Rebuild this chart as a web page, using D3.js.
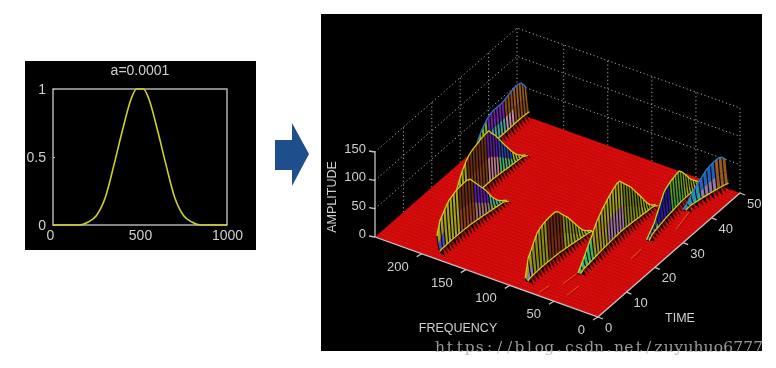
<!DOCTYPE html>
<html>
<head>
<meta charset="utf-8">
<script src="https://cdn.jsdelivr.net/npm/d3@7"></script>
<style>
  html, body { margin: 0; padding: 0; background: #fff; }
  svg { display: block; }
  text { font-family: "Liberation Sans", Arial, sans-serif; fill: #cfcfcf; }
  .soft { filter: blur(0.5px); }
  .softer { filter: blur(0.4px); }
</style>
</head>
<body>
<svg id="chart" width="776" height="368"></svg>
<script>
// left panel: window curve
const windowX = [0, 100, 150, 200, 250, 300, 350, 400, 450, 480, 500, 520, 550, 600, 650, 700, 750, 800, 850, 900, 1000];
const windowY = [0, 0, 0, 0.02, 0.07, 0.2, 0.44, 0.7, 0.93, 1, 1, 1, 0.93, 0.7, 0.44, 0.2, 0.07, 0.02, 0, 0, 0];
const windowTicksX = [0, 500, 1000];
const windowTicksY = [0, 0.5, 1];

// right panel: axes
const freqTicks = [0, 50, 100, 150, 200];
const timeTicks = [0, 10, 20, 30, 40, 50];
const ampTicks = [0, 50, 100, 150];

// right panel: ridges, back to front. amps are read per time unit from ridgeStart on
const ridgeStart = [31, 12, 1, 2, 10, 27, 39];
const ridgeFreqFrom = [240, 205, 184, 87, 53, 30, 27];
const ridgeFreqTo = [240, 206, 179, 82, 55, 38, 14];
const ridgeAmps = [
  [8, 22, 35, 44, 50, 56, 60, 62, 62, 62, 62, 63, 65, 67, 69, 70, 70, 68, 60, 50],
  [5, 20, 38, 52, 65, 74, 82, 88, 91, 93, 95, 97, 98, 99, 99, 90, 83, 74, 65, 55, 46, 37, 28, 20, 13, 8, 3, 0],
  [35, 58, 66, 74, 81, 84, 87, 89, 90, 91, 91, 88, 80, 72, 64, 56, 48, 38, 28, 20, 13, 8, 4, 0],
  [10, 42, 52, 64, 74, 78, 81, 83, 84, 85, 85, 80, 72, 65, 58, 49, 40, 31, 22, 14, 9, 5, 0],
  [3, 11, 20, 29, 38, 47, 57, 66, 72, 78, 83, 88, 92, 96, 99, 99, 92, 85, 78, 71, 62, 53, 44, 35, 25, 16, 9, 4, 0],
  [0, 5, 10, 15, 25, 34, 44, 53, 56, 58, 60, 61, 62, 62, 56, 48, 40, 31, 24, 18, 12, 6, 0],
  [3, 10, 20, 29, 37, 44, 51, 55, 58, 60, 58, 50]
];
// colour zones along time: each colour runs up to the matching break
const ridgeBreaks = [
  [36, 42, 45, 51],
  [18, 25, 29, 34, 40],
  [3, 8, 13, 18, 25],
  [4, 9, 14, 19, 25],
  [15, 20, 26, 32, 39],
  [31, 36, 41, 45, 50],
  [43, 47, 51]
];
const ridgeColorsLow = [
  ["#9aa61c", "#3fa0a0", "#c08ca8", "#8a4a18"],
  ["#a8a818", "#7a3a12", "#c07a90", "#46b070", "#9ab820"],
  ["#4a50b8", "#a8a018", "#8c3a18", "#9a6a70", "#60b040"],
  ["#8a80b8", "#8a8a14", "#7a2a10", "#8e9a18", "#8fb018"],
  ["#30c070", "#a09018", "#9a70a0", "#7c8a14", "#98a818"],
  ["#40b060", "#2020a0", "#3a9a30", "#8ca818", "#a8b018"],
  ["#20a8b0", "#8a7ab0", "#9a5a20"]
];
const ridgeColorsTop = [
  ["#70b020", "#6a20a8", "#8a4a18", "#9a5a20"],
  ["#a0a018", "#6a2a10", "#5a18a0", "#2040b0", "#a0c020"],
  ["#a8a018", "#a8a018", "#6a2a10", "#5a18a8", "#38b0a0"],
  ["#a0a018", "#8c8c14", "#6a2410", "#7c8414", "#8fa818"],
  ["#30c070", "#a09018", "#a0a018", "#6a7a14", "#8aa018"],
  ["#2030a8", "#1818a0", "#5a9a20", "#7c9a18", "#a0b018"],
  ["#2090c0", "#2060c0", "#9a5a20"]
];
const ridgeCrest = ["#3070c8", "#d2c81e", "#d2c81e", "#d8c820", "#d8c820", "#c8d020", "#2c78c8"];

// orange streaks on the red floor: frequency and time at both ends
const streakFreq = [[59, 57], [27, 28], [18, 25], [45, 44], [70, 68]];
const streakTime = [[6, 10], [20, 24], [33, 41], [3, 7], [1, 4]];

const watermark = "https://blog.csdn.net/zuyuhuo6777";

const svg = d3.select("#chart");

// ---- left panel ----
svg.append("rect").attr("x", 25).attr("y", 61).attr("width", 231).attr("height", 189).attr("fill", "#000");

const xLeft = d3.scaleLinear().domain([0, 1000]).range([53, 227]);
const yLeft = d3.scaleLinear().domain([0, 1]).range([225, 89]);

const left = svg.append("g").attr("class", "soft");

left.append("rect")
  .attr("x", 53).attr("y", 89).attr("width", 174).attr("height", 136)
  .attr("fill", "none").attr("stroke", "#bdbdbd").attr("stroke-width", 1.4);

const axisX = left.append("g").attr("transform", "translate(0,225)")
  .call(d3.axisBottom(xLeft).tickValues(windowTicksX).tickFormat(d3.format("d")).tickSize(0).tickPadding(5));
const axisY = left.append("g").attr("transform", "translate(53,0)")
  .call(d3.axisLeft(yLeft).tickValues(windowTicksY).tickFormat(d => d).tickSize(-2).tickPadding(7));
axisY.selectAll(".tick line").attr("stroke", "#bdbdbd");
left.selectAll(".domain").remove();
left.selectAll(".tick text").style("font-size", "14px").style("font-family", "Liberation Sans").attr("fill", "#cfcfcf");
axisX.selectAll(".tick text").filter(d => d === 0).attr("dx", -3);

left.append("path")
  .attr("d", d3.line().x((d, i) => xLeft(windowX[i])).y(d => yLeft(d)).curve(d3.curveMonotoneX)(windowY))
  .attr("fill", "none").attr("stroke", "#cfcf30").attr("stroke-width", 1.6);

left.append("text").attr("x", 140).attr("y", 75).attr("text-anchor", "middle")
  .style("font-size", "14px").text("a=0.0001");

// ---- arrow ----
svg.append("path")
  .attr("d", "M275,140 H292 V123 L309,154 L292,186 V170 H275 Z")
  .attr("fill", "#1f4e8c");

// ---- right panel ----
svg.append("rect").attr("x", 321).attr("y", 14).attr("width", 441).attr("height", 337)
  .attr("fill", "#000");

const freqX = d3.scaleLinear().domain([0, 253]).range([0, -223]);
const freqY = d3.scaleLinear().domain([0, 253]).range([0, -80]);
const timeX = d3.scaleLinear().domain([0, 50]).range([0, 142]);
const timeY = d3.scaleLinear().domain([0, 50]).range([0, -124]);
const ampY = d3.scaleLinear().domain([0, 150]).range([0, -85]);

// oblique projection of (frequency, time, amplitude) onto the page
const proj = (f, t, a) => [598 + freqX(f) + timeX(t), 317 + freqY(f) + timeY(t) + ampY(a)];
const line = d3.line();
const freqMax = 253;

const plot = svg.append("g").attr("class", "soft");

// dotted back walls
const walls = plot.append("g").attr("fill", "none")
  .attr("stroke", "#a8a8a8").attr("stroke-dasharray", "1.2 2.6").attr("stroke-width", 1);
ampTicks.filter(a => a > 0).forEach(a => {
  walls.append("path").attr("d", line([proj(freqMax, 0, a), proj(freqMax, 50, a), proj(0, 50, a)]));
});
timeTicks.filter(t => t > 0).forEach(t => {
  walls.append("path").attr("d", line([proj(freqMax, t, 0), proj(freqMax, t, 150)]));
});
freqTicks.forEach(f => {
  walls.append("path").attr("d", line([proj(f, 50, 0), proj(f, 50, 150)]));
});

// red floor with its fine mesh
plot.append("path")
  .attr("d", line([proj(0, 0, 0), proj(freqMax, 0, 0), proj(freqMax, 50, 0), proj(0, 50, 0)]) + "Z")
  .attr("fill", "#dc0d0d");
const mesh = plot.append("g").attr("fill", "none").attr("stroke", "#8e0505").attr("stroke-width", 0.5).attr("stroke-opacity", 0.55);
d3.range(0, 51, 1).forEach(t => {
  mesh.append("path").attr("d", line([proj(0, t, 0), proj(freqMax, t, 0)]));
});
d3.range(0, freqMax, 3).forEach(f => {
  mesh.append("path").attr("d", line([proj(f, 0, 0), proj(f, 50, 0)]));
});

streakFreq.forEach((fs, i) => {
  plot.append("path")
    .attr("d", line([proj(fs[0], streakTime[i][0], 0), proj(fs[1], streakTime[i][1], 0)]))
    .attr("stroke", "#ee5a12").attr("stroke-opacity", 0.7).attr("stroke-width", 1.1).attr("fill", "none");
  plot.append("path")
    .attr("d", line([proj(fs[0] - 2, streakTime[i][0], 0), proj(fs[1] - 2, streakTime[i][1], 0)]))
    .attr("stroke", "#7a0808").attr("stroke-opacity", 0.6).attr("stroke-width", 1).attr("fill", "none");
});

// ridges
ridgeAmps.forEach((amps, r) => {
  const freqAt = d3.scaleLinear()
    .domain([ridgeStart[r], ridgeStart[r] + amps.length - 1])
    .range([ridgeFreqFrom[r], ridgeFreqTo[r]]);
  const low = d3.scaleThreshold().domain(ridgeBreaks[r]).range(ridgeColorsLow[r].concat(ridgeColorsLow[r].slice(-1)));
  const top = d3.scaleThreshold().domain(ridgeBreaks[r]).range(ridgeColorsTop[r].concat(ridgeColorsTop[r].slice(-1)));
  const g = plot.append("g");
  const times = amps.map((a, i) => ridgeStart[r] + i);

  const crest = i => proj(freqAt(times[i]) + 2, times[i], amps[i]);
  const mid = i => proj(freqAt(times[i]) + 0.5, times[i], amps[i] * 0.55);
  const foot = i => proj(freqAt(times[i]) - 1, times[i], Math.min(amps[i], 6 + amps[i] * 0.08));

  // dark teeth between the foot line and the floor
  d3.range(amps.length - 1).forEach(i => {
    const tip = proj(freqAt(times[i]) - 6, times[i] + 0.5, 0);
    g.append("path").attr("d", line([foot(i), foot(i + 1), tip]) + "Z")
      .attr("fill", i % 2 ? "#3a1206" : "#140604");
  });

  // colour stripes, far end first
  d3.range(amps.length - 2, -1, -1).forEach(i => {
    g.append("path").attr("d", line([foot(i), mid(i), mid(i + 1), foot(i + 1)]) + "Z")
      .attr("fill", low(times[i]));
    g.append("path").attr("d", line([mid(i), crest(i), crest(i + 1), mid(i + 1)]) + "Z")
      .attr("fill", top(times[i]));
  });
  // mesh lines up the face
  amps.forEach((a, i) => {
    g.append("path").attr("d", line([foot(i), mid(i), crest(i)]))
      .attr("fill", "none").attr("stroke", "#0a0a04").attr("stroke-width", 1.15);
  });

  g.append("path").attr("d", line(amps.map((a, i) => foot(i))))
    .attr("fill", "none").attr("stroke", "#d8c820").attr("stroke-width", 1.2);
  g.append("path").attr("d", line(amps.map((a, i) => crest(i))))
    .attr("fill", "none").attr("stroke", ridgeCrest[r]).attr("stroke-width", 1.3);
});

// axes
const axes = svg.append("g").attr("class", "softer");
const axisPath = pts => axes.append("path").attr("d", line(pts))
  .attr("fill", "none").attr("stroke", "#c4c4c4").attr("stroke-width", 1.3);

axisPath([proj(freqMax, 0, 0), proj(0, 0, 0), proj(0, 50, 0)]);
axisPath([proj(freqMax, 0, 0), proj(freqMax, 0, 150)]);

ampTicks.forEach(a => {
  const [x, y] = proj(freqMax, 0, a);
  axisPath([[x, y], [x - 6, y - 1]]);
  axes.append("text").attr("x", x - 9).attr("y", y + 1).attr("text-anchor", "end")
    .style("font-size", "13px").text(a);
});
freqTicks.forEach(f => {
  const [x, y] = proj(f, 0, 0);
  axisPath([[x, y], [x - 5, y + 3]]);
  axes.append("text").attr("x", x - 13).attr("y", y + 17).attr("text-anchor", "end")
    .style("font-size", "13px").text(f);
});
timeTicks.forEach(t => {
  const [x, y] = proj(0, t, 0);
  axisPath([[x, y], [x + 5, y + 2]]);
  axes.append("text").attr("x", x + 7).attr("y", y + 15)
    .style("font-size", "13px").text(t);
});

axes.append("text").attr("x", 458).attr("y", 332).attr("text-anchor", "middle")
  .style("font-size", "12.5px").text("FREQUENCY");
axes.append("text").attr("x", 680).attr("y", 322).attr("text-anchor", "middle")
  .style("font-size", "12.5px").text("TIME");
axes.append("text").attr("transform", "translate(336,197) rotate(-90)").attr("text-anchor", "middle")
  .style("font-size", "12.5px").text("AMPLITUDE");

// watermark, one slot per glyph like a fixed-pitch serif
svg.append("text").attr("y", 352)
  .attr("class", "softer")
  .attr("x", watermark.split("").map((c, i) => 440 + i * 9.94).join(" "))
  .attr("text-anchor", "middle")
  .style("font-family", "DejaVu Serif")
  .style("font-size", "15.5px").style("fill", "#b4b4b4").attr("fill-opacity", 0.85)
  .text(watermark);
</script>
</body>
</html>
